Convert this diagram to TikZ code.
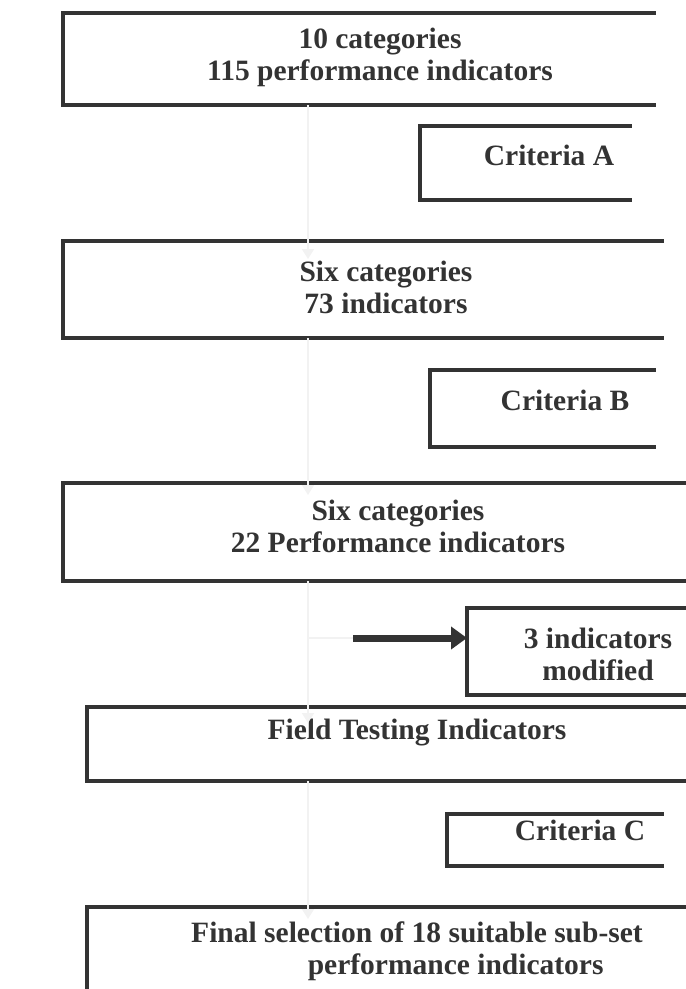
\documentclass[tikz,border=0pt]{standalone}
\usepackage{fontspec}
\setmainfont{Liberation Serif}
\usetikzlibrary{arrows.meta,fit}

\tikzset{
  box/.style={inner sep=0pt, outer sep=0pt},
  txt/.style={font=\bfseries\fontsize{29.5}{32}\selectfont, text=black!80, align=center, inner sep=0pt},
  frame/.style={draw=black!80, line width=3.2pt, line cap=rect},
  faint/.style={draw=black!5, line width=2pt, -{Triangle[length=10pt,width=12pt]}},
  push/.style={draw=black!80, line width=7pt, -{Triangle[length=16pt,width=22pt]}}
}
% open frame: top, left and bottom sides only
\newcommand{\openbox}[1]{\draw[frame] (#1.north east) -- (#1.north west) -- (#1.south west) -- (#1.south east);}

\begin{document}
\begin{tikzpicture}[x=1pt,y=-1pt]
  \useasboundingbox (0,0) rectangle (686,989);

  % boxes
  \node[box, fit={(63,13) (654,105)}]   (cat) {};
  \node[box, fit={(420,126) (630,200)}] (crA) {};
  \node[box, fit={(63,241) (662,338)}]  (six) {};
  \node[box, fit={(430,370) (654,447)}] (crB) {};
  \node[box, fit={(63,483) (690,581)}]  (sixp) {};
  \node[box, fit={(467,608) (690,695)}] (mod) {};
  \node[box, fit={(87,707) (690,781)}]  (field) {};
  \node[box, fit={(447,814) (662,866)}] (crC) {};
  \node[box, fit={(87,907) (690,995)}]  (final) {};

  \openbox{cat}
  \openbox{crA}
  \openbox{six}
  \openbox{crB}
  \openbox{sixp}
  \openbox{mod}
  \openbox{field}
  \openbox{crC}
  \openbox{final}

  % texts
  \node[txt] (catT)   at (380,57)  {10 categories\\115 performance indicators};
  \node[txt] (crAT)   at (549,155) {Criteria A};
  \node[txt] (sixT)   at (386,287) {Six categories\\73 indicators};
  \node[txt] (crBT)   at (565,400) {Criteria B};
  \node[txt] (sixpT)  at (398,526) {Six categories\\22 Performance indicators};
  \node[txt] (modT)   at (598,654) {3 indicators\\modified};
  \node[txt] (fieldT) at (417,733) {Field Testing Indicators};
  \node[txt] (crCT)   at (580,830) {Criteria C};
  \node[txt, align=left] (finalT) at (417,951) {Final selection of 18 suitable sub-set\\\hspace*{3.95em}performance indicators};

  % connectors
  \coordinate (spine) at (308,0);
  \coordinate (tail) at (353,638);
  \draw[faint] (spine |- cat.south) -- ([yshift=-18pt]spine |- six.north);
  \draw[faint] (spine |- six.south) -- ([yshift=-12pt]spine |- sixp.north);
  \draw[faint] (spine |- sixp.south) -- ([yshift=-16pt]spine |- field.north);
  \draw[faint] (spine |- field.south) -- ([yshift=-12pt]spine |- final.north);
  \draw[draw=black!5, line width=2pt] (spine |- tail) -- (tail);
  \draw[push] (tail) -- (tail -| mod.west);
\end{tikzpicture}
\end{document}
